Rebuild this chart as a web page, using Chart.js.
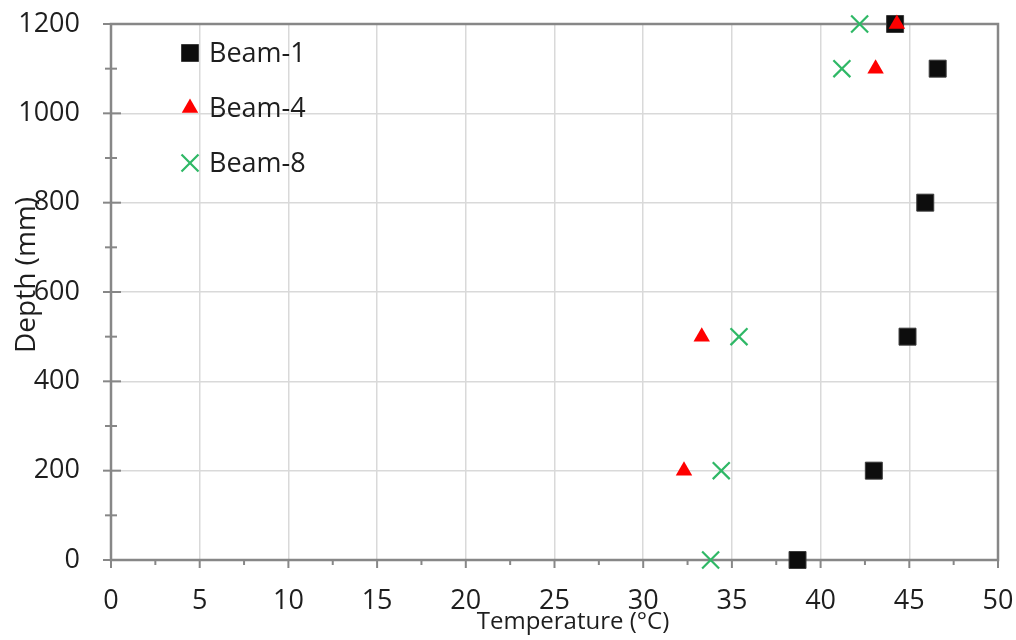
<!DOCTYPE html>
<html lang="en">
<head>
    <meta charset="UTF-8">
    <title>Depth vs Temperature</title>
    <script src="https://cdn.jsdelivr.net/npm/chart.js"></script>
    <style>
        html, body { margin: 0; padding: 0; background: #fff; }
        #wrap { width: 1016px; height: 640px; }
    </style>
</head>
<body>
    <div id="wrap"><canvas id="tempChart" width="1016" height="640"></canvas></div>

    <script>
        // Values
        const seriesNames = ['Beam-1', 'Beam-4', 'Beam-8'];

        const beam1Depth = [1200, 1100, 800, 500, 200, 0];
        const beam1Temp = [44.2, 46.6, 45.9, 44.9, 43.0, 38.7];

        const beam4Depth = [1200, 1100, 500, 200];
        const beam4Temp = [44.3, 43.1, 33.3, 32.3];

        const beam8Depth = [1200, 1100, 500, 200, 0];
        const beam8Temp = [42.2, 41.2, 35.4, 34.4, 33.8];

        const xTitle = 'Temperature (°C)';
        const yTitle = 'Depth (mm)';

        const textColor = '#1e1e1e';
        const axisColor = '#878787';
        const gridColor = '#d9d9d9';
        const fontFamily = '"Open Sans", "Noto Sans", sans-serif';

        function toPoints(xs, ys) {
            return xs.map((x, i) => ({ x: x, y: ys[i] }));
        }

        // Axis lines, plot border and the Excel-style major/minor tick marks
        const axisPlugin = {
            id: 'axisFrame',
            beforeDatasetsDraw(chart) {
                const ctx = chart.ctx;
                const area = chart.chartArea;
                const xs = chart.scales.x;
                const ys = chart.scales.y;
                ctx.save();
                ctx.strokeStyle = axisColor;
                ctx.lineWidth = 2.5;
                ctx.lineCap = 'square';
                ctx.strokeRect(area.left, area.top, area.right - area.left, area.bottom - area.top);

                ctx.lineCap = 'butt';
                ctx.lineWidth = 2;
                // x ticks: major every 5, minor every 2.5 (outside)
                for (let v = xs.min; v <= xs.max + 0.001; v += 2.5) {
                    const px = xs.getPixelForValue(v);
                    const major = Math.abs(v % 5) < 0.001;
                    ctx.beginPath();
                    ctx.moveTo(px, area.bottom);
                    ctx.lineTo(px, area.bottom + (major ? 8 : 5));
                    ctx.stroke();
                }
                // y ticks: major every 200, minor every 100 (cross)
                for (let v = ys.min; v <= ys.max; v += 100) {
                    const py = ys.getPixelForValue(v);
                    const major = v % 200 === 0;
                    ctx.beginPath();
                    ctx.moveTo(area.left - (major ? 8 : 6), py);
                    ctx.lineTo(area.left + (major ? 10 : 6), py);
                    ctx.stroke();
                }
                ctx.restore();
            }
        };

        // Axis titles, placed where the reference has them
        const titlePlugin = {
            id: 'axisTitles',
            afterDraw(chart) {
                const ctx = chart.ctx;
                ctx.save();
                ctx.fillStyle = textColor;
                ctx.textAlign = 'center';
                ctx.textBaseline = 'middle';
                ctx.font = '24px ' + fontFamily;
                ctx.fillText(xTitle, 573, 622);
                ctx.translate(27, 275);
                ctx.rotate(-Math.PI / 2);
                ctx.font = '28px ' + fontFamily;
                ctx.fillText(yTitle, 0, 0);
                ctx.restore();
            }
        };

        // Legend drawn inside the plot area, top left
        const legendPlugin = {
            id: 'insideLegend',
            afterDatasetsDraw(chart) {
                const ctx = chart.ctx;
                const area = chart.chartArea;
                const markerX = area.left + 79;
                const textX = area.left + 98;
                let y = area.top + 29;
                chart.data.datasets.forEach(ds => {
                    ctx.save();
                    ctx.fillStyle = ds.backgroundColor;
                    ctx.strokeStyle = ds.borderColor;
                    ctx.lineWidth = ds.borderWidth;
                    Chart.helpers.drawPoint(ctx, {
                        pointStyle: ds.pointStyle,
                        radius: ds.pointRadius,
                        rotation: 0,
                        borderWidth: ds.borderWidth
                    }, markerX, y);
                    ctx.fillStyle = textColor;
                    ctx.font = '27px ' + fontFamily;
                    ctx.textBaseline = 'middle';
                    ctx.fillText(ds.label, textX, y + 1);
                    ctx.restore();
                    y += 55;
                });
            }
        };

        const ctx = document.getElementById('tempChart').getContext('2d');
        new Chart(ctx, {
            type: 'scatter',
            data: {
                datasets: [
                    {
                        label: seriesNames[0],
                        data: toPoints(beam1Temp, beam1Depth),
                        pointStyle: 'rect',
                        pointRadius: 12,
                        backgroundColor: '#0d0d0d',
                        borderColor: '#3c3c3c',
                        borderWidth: 1,
                        order: 1,
                        clip: false
                    },
                    {
                        label: seriesNames[1],
                        data: toPoints(beam4Temp, beam4Depth),
                        pointStyle: 'triangle',
                        pointRadius: 9.5,
                        backgroundColor: '#ff0000',
                        borderColor: '#ff0000',
                        borderWidth: 0,
                        order: 0,
                        clip: false
                    },
                    {
                        label: seriesNames[2],
                        data: toPoints(beam8Temp, beam8Depth),
                        pointStyle: 'crossRot',
                        pointRadius: 12,
                        backgroundColor: '#2fb866',
                        borderColor: '#2fb866',
                        borderWidth: 2.2,
                        order: 2,
                        clip: false
                    }
                ]
            },
            options: {
                responsive: false,
                animation: false,
                events: [],
                layout: { padding: { top: 24, right: 18, left: 0, bottom: 0 } },
                plugins: {
                    legend: { display: false },
                    tooltip: { enabled: false }
                },
                scales: {
                    x: {
                        type: 'linear',
                        min: 0,
                        max: 50,
                        ticks: {
                            stepSize: 5,
                            padding: 25,
                            color: textColor,
                            font: { family: fontFamily, size: 27 },
                            maxRotation: 0
                        },
                        grid: { color: gridColor, lineWidth: 1.5, drawTicks: false },
                        border: { display: false },
                        title: { display: false, text: xTitle },
                        afterFit: scale => {
                            scale.height = 80;
                            scale.paddingLeft = 0;
                            scale.paddingRight = 0;
                        }
                    },
                    y: {
                        type: 'linear',
                        min: 0,
                        max: 1200,
                        ticks: {
                            stepSize: 200,
                            padding: 31,
                            color: textColor,
                            font: { family: fontFamily, size: 27 },
                            callback: v => String(v)
                        },
                        grid: { color: gridColor, lineWidth: 1.5, drawTicks: false },
                        border: { display: false },
                        title: { display: false, text: yTitle },
                        afterFit: scale => {
                            scale.width = 111;
                            scale.paddingTop = 0;
                            scale.paddingBottom = 0;
                        }
                    }
                }
            },
            plugins: [axisPlugin, legendPlugin, titlePlugin]
        });
    </script>
</body>
</html>
